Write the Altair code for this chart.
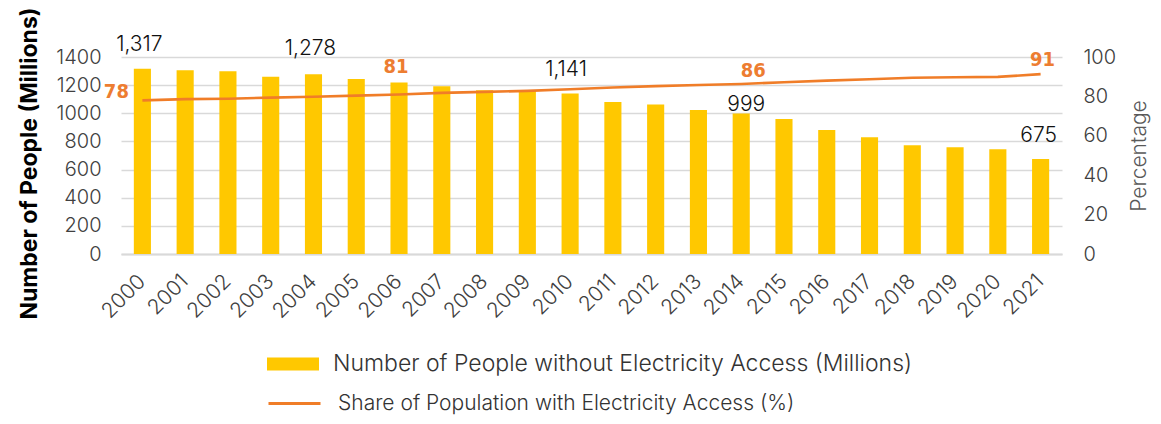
import altair as alt
import pandas as pd

years = [str(y) for y in range(2000, 2022)]
people_without = [1317, 1306, 1298, 1260, 1278, 1244, 1218, 1192, 1164, 1160, 1141,
                  1081, 1063, 1023, 999, 959, 881, 829, 772, 758, 744, 675]
share_access = [78.0, 78.6, 78.8, 79.4, 79.8, 80.4, 81.0, 81.8, 82.3, 82.8, 83.6,
                84.5, 85.2, 85.8, 86.3, 87.2, 88.0, 88.7, 89.5, 89.7, 89.9, 91.3]

bar_label_years = ["2000", "2004", "2010", "2014", "2021"]
bar_label_text = ["1,317", "1,278", "1,141", "999", "675"]
line_label_years = ["2000", "2006", "2014", "2021"]
line_label_text = ["78", "81", "86", "91"]

bar_series = "Number of People without Electricity Access (Millions)"
line_series = "Share of Population with Electricity Access (%)"

# style: pixel offsets of the annotations
bar_label_offsets = [(-3, -24), (-3, -25), (-4, -23), (5, -8), (-2, -23)]
line_label_offsets = [(-26, -8), (-3, -27), (12, -13), (2, -14)]

df = pd.DataFrame({"Year": years, "People": people_without, "Share": share_access})
df["BarSeries"] = bar_series
df["LineSeries"] = line_series

LIGHT = "Inter"
YELLOW = "#FFC800"
ORANGE = "#F07D28"
ORANGE_TXT = "#ED7D31"
COND = "DejaVu Sans Condensed, Roboto, sans-serif"

left_axis = alt.Axis(title="Number of People (Millions)",
                     values=[0, 200, 400, 600, 800, 1000, 1200, 1400], format="d",
                     grid=True, gridColor="#D9D9D9", gridWidth=1.3,
                     domain=False, ticks=False,
                     labelFont=LIGHT, labelFontWeight=300, labelFontSize=20,
                     labelColor="#404040", labelPadding=20,
                     titleFont="Inter", titleFontWeight="bold", titleFontSize=23,
                     titleColor="#000000", titlePadding=14, titleY=106)

right_axis = alt.Axis(title="Percentage", orient="right",
                      values=[0, 20, 40, 60, 80, 100], format="d", grid=False,
                      domain=False, ticks=False,
                      labelFont=LIGHT, labelFontWeight=300, labelFontSize=20,
                      labelColor="#404040", labelPadding=21,
                      titleFont=LIGHT, titleFontWeight=300, titleFontSize=21,
                      titleColor="#595959", titleAngle=270, titleBaseline="top",
                      titlePadding=13)

y_left = alt.Y("People:Q", scale=alt.Scale(domain=[0, 1400], nice=False), axis=left_axis)
y_right = alt.Y("Share:Q", scale=alt.Scale(domain=[0, 100], nice=False), axis=right_axis)

x_enc = alt.X("Year:O",
              scale=alt.Scale(paddingInner=0.6, paddingOuter=0.3),
              axis=alt.Axis(title=None, labelAngle=-45, labelAlign="right",
                            labelBaseline="middle", labelPadding=24,
                            labelFont=LIGHT, labelFontWeight=300, labelFontSize=21,
                            labelColor="#404040", ticks=False,
                            domainColor="#D9D9D9", domainWidth=2))

bars = alt.Chart(df).mark_bar().encode(
    x=x_enc,
    y=y_left,
    fill=alt.Fill("BarSeries:N",
                  scale=alt.Scale(domain=[bar_series], range=[YELLOW]),
                  legend=alt.Legend(title=None, orient="none", legendX=159, legendY=294,
                                    symbolType="M-2,-0.5H2V0.5H-2Z", symbolSize=676,
                                    symbolStrokeWidth=0, labelFont=LIGHT,
                                    labelFontWeight=300, labelFontSize=23,
                                    labelColor="#333333", labelOffset=27,
                                    labelLimit=900, padding=0)),
)

bar_texts = []
for yr, txt, (dx, dy) in zip(bar_label_years, bar_label_text, bar_label_offsets):
    bar_texts.append(
        alt.Chart(df).transform_filter(alt.datum.Year == yr).mark_text(
            dx=dx, dy=dy, font=LIGHT, fontWeight=300, fontSize=21, color="#111111",
            baseline="middle", align="center"
        ).encode(x=x_enc, y=y_left, text=alt.value(txt))
    )

line = alt.Chart(df).mark_line(strokeWidth=2.6).encode(
    x=x_enc,
    y=y_right,
    stroke=alt.Stroke("LineSeries:N",
                      scale=alt.Scale(domain=[line_series], range=[ORANGE]),
                      legend=alt.Legend(title=None, orient="none", legendX=146, legendY=319,
                                        symbolType="stroke", symbolSize=2704,
                                        symbolStrokeWidth=3, labelFont=LIGHT,
                                        labelFontWeight=300, labelFontSize=21,
                                        labelColor="#333333", labelOffset=16,
                                        labelLimit=900, padding=0)),
)

line_texts = []
for yr, txt, (dx, dy) in zip(line_label_years, line_label_text, line_label_offsets):
    line_texts.append(
        alt.Chart(df).transform_filter(alt.datum.Year == yr).mark_text(
            dx=dx, dy=dy, font=COND, fontWeight="bold", fontSize=20,
            color=ORANGE_TXT, baseline="middle", align="center"
        ).encode(x=x_enc, y=y_right, text=alt.value(txt))
    )

left = alt.layer(bars, *bar_texts)
right = alt.layer(line, *line_texts)

chart = alt.layer(left, right).resolve_scale(y="independent").properties(
    width=941, height=197,
    autosize=alt.AutoSizeParams(type="none"),
    padding={"left": 113, "top": 49, "right": 91, "bottom": 162},
    background="white",
).configure_view(stroke=None)

chart.save("out.html", embed_options={"renderer": "svg", "actions": False})
